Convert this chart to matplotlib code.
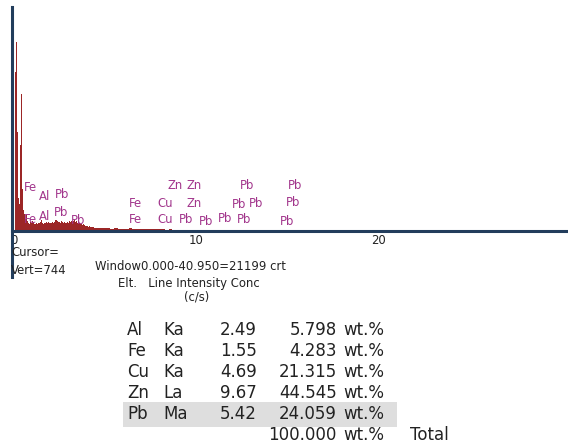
import numpy as np
import matplotlib
matplotlib.use('Agg')
import matplotlib.pyplot as plt
from matplotlib.lines import Line2D
from matplotlib.patches import Rectangle

# spectrum: counts per channel (keV)
energy_fine = np.arange(0.0, 4.501, 0.05)
counts_fine = [0, 200, 528, 628, 330, 110, 90, 286, 455, 140,
               70, 55, 45, 40, 52, 34, 28, 24, 30, 26,
               33, 29, 24, 27, 22, 26, 24, 28, 25, 31,
               36, 27, 24, 26, 28, 25, 29, 26, 30, 27,
               25, 28, 31, 27, 30, 33, 36, 38, 32, 29,
               31, 28, 32, 30, 27, 29, 31, 28, 26, 30,
               27, 32, 29, 34, 30, 33, 36, 31, 29, 33,
               27, 25, 28, 24, 22, 20, 23, 19, 17, 18,
               15, 16, 14, 15, 13, 14, 12, 13, 11, 12, 10]
energy_coarse = np.arange(4.6, 14.01, 0.2)
counts_coarse = [11, 10, 9, 10, 8, 9, 8, 7, 8, 9,
                 7, 6, 7, 6, 5, 6, 5, 7, 5, 4,
                 6, 4, 4, 3, 3, 4, 3, 3, 2, 3,
                 4, 3, 2, 3, 2, 2, 3, 2, 2, 3,
                 3, 2, 2, 1, 2, 1, 1, 2]

# peak markers: text, energy (keV), height (counts)
marker_text = ['Fe', 'Al', 'Pb', 'Zn', 'Zn', 'Pb', 'Pb',
               'Fe', 'Cu', 'Zn', 'Pb', 'Pb', 'Pb',
               'Fe', 'Al', 'Pb', 'Pb', 'Fe', 'Cu', 'Pb', 'Pb', 'Pb', 'Pb', 'Pb']
marker_x = [0.88, 1.70, 2.64, 8.87, 9.92, 12.83, 15.44,
            6.68, 8.32, 9.92, 12.39, 13.30, 15.33,
            0.88, 1.70, 2.58, 3.52, 6.68, 8.30, 9.45, 10.55, 11.62, 12.64, 15.0]
marker_y = [146, 116, 120, 150, 150, 150, 150,
            93, 93, 93, 87, 93, 94,
            37, 47, 63, 34, 37, 37, 37, 33, 41, 37, 33]

# quantification table
elements = ['Al', 'Fe', 'Cu', 'Zn', 'Pb']
lines = ['Ka', 'Ka', 'Ka', 'La', 'Ma']
intensity = ['2.49', '1.55', '4.69', '9.67', '5.42']
conc = ['5.798', '4.283', '21.315', '44.545', '24.059']
total = '100.000'

W, H = 568, 448
navy = '#223d5c'
red = '#9c2626'
mag = '#a2368c'
ink = '#222222'


def fx(x):
    return x / W


def fy(y):
    return 1 - y / H


fig = plt.figure(figsize=(W / 100, H / 100), dpi=100)
ax = fig.add_axes([fx(11.5), fy(231), 1 - fx(11.5), (231 - 7) / H])

ax.bar(energy_fine, counts_fine, width=0.05, color=red, linewidth=0)
ax.bar(energy_coarse, counts_coarse, width=0.2, color=red, linewidth=0)

for t, x, y in zip(marker_text, marker_x, marker_y):
    ax.text(x, y, t, color=mag, fontsize=8.4, ha='center', va='center')

ax.set_xlim(-0.14, 30.44)
ax.set_ylim(0, 744)
ax.set_yticks([])
ax.set_xticks([0, 10, 20])
ax.tick_params(axis='x', length=0, pad=2, labelsize=8.4, labelcolor=ink)
for s in ['top', 'right', 'left']:
    ax.spines[s].set_visible(False)
ax.spines['bottom'].set_color(navy)
ax.spines['bottom'].set_linewidth(2.2)

# vertical axis line running past the baseline
fig.add_artist(Line2D([fx(11.5), fx(11.5)], [fy(7), fy(277)], color=navy, linewidth=2.2))

small = dict(fontsize=8.4, color=ink, va='center')
fig.text(fx(11), fy(252), 'Cursor=', ha='left', **small)
fig.text(fx(11), fy(270), 'Vert=744', ha='left', **small)
fig.text(fx(95), fy(266), 'Window0.000-40.950=21199 crt', ha='left', **small)
fig.text(fx(118), fy(283), 'Elt.   Line Intensity Conc', ha='left', **small)
fig.text(fx(197), fy(297), '(c/s)', ha='center', **small)

fig.add_artist(Rectangle((fx(123), fy(427)), fx(397) - fx(123), fy(402) - fy(427),
                         transform=fig.transFigure, facecolor='#dedede', edgecolor='none',
                         zorder=0))

big = dict(fontsize=12, color=ink, va='center')
row_y = [330, 351, 372, 393, 414]
for i in range(len(elements)):
    fig.text(fx(127), fy(row_y[i]), elements[i], ha='left', **big)
    fig.text(fx(163), fy(row_y[i]), lines[i], ha='left', **big)
    fig.text(fx(257), fy(row_y[i]), intensity[i], ha='right', **big)
    fig.text(fx(337), fy(row_y[i]), conc[i], ha='right', **big)
    fig.text(fx(343), fy(row_y[i]), 'wt.%', ha='left', **big)
fig.text(fx(337), fy(435), total, ha='right', **big)
fig.text(fx(343), fy(435), 'wt.%', ha='left', **big)
fig.text(fx(410), fy(435), 'Total', ha='left', **big)

fig.savefig('out.png', dpi=100)
